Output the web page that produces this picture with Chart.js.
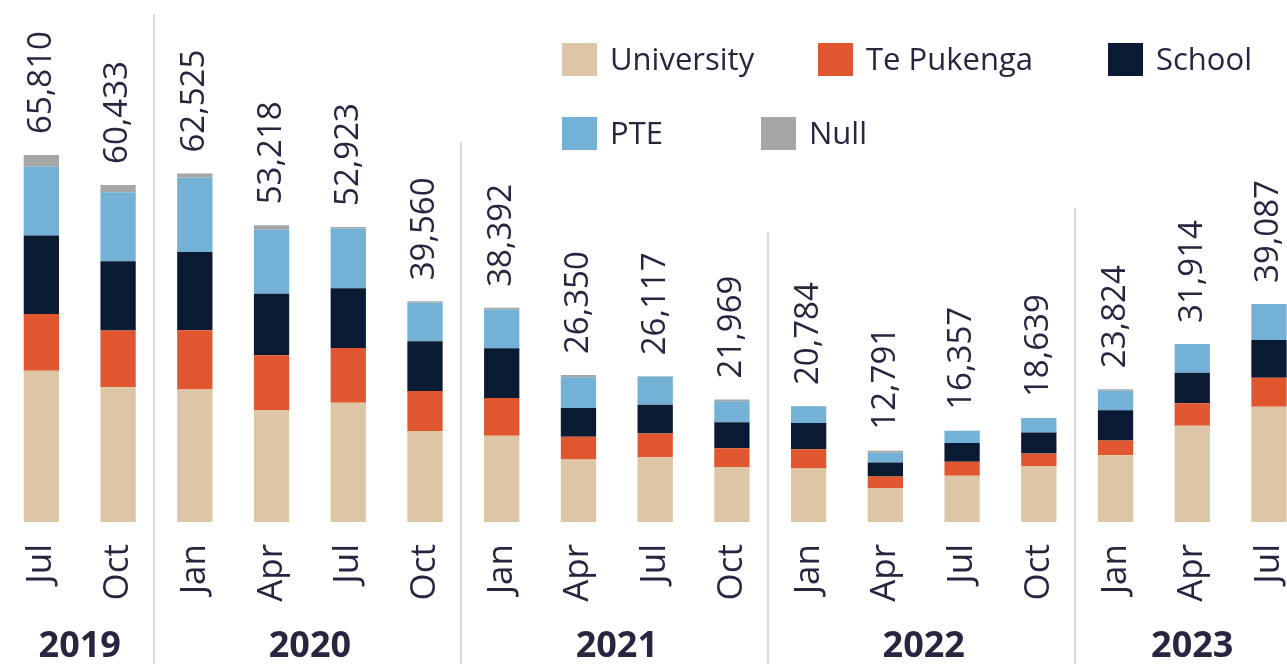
<!DOCTYPE html>
<html>
<head>
<meta charset="utf-8">
<script src="https://cdn.jsdelivr.net/npm/chart.js@4.4.1/dist/chart.umd.min.js"></script>
<style>
  html, body { margin: 0; padding: 0; background: #fff; overflow: hidden; }
  #wrap { position: absolute; left: 3px; top: 0; width: 1330px; height: 664px; }
</style>
</head>
<body>
<div id="wrap"><canvas id="grafico"></canvas></div>
<script>
// Categorias (trimestres) e anos
const months = ['Jul', 'Oct', 'Jan', 'Apr', 'Jul', 'Oct', 'Jan', 'Apr', 'Jul', 'Oct', 'Jan', 'Apr', 'Jul', 'Oct', 'Jan', 'Apr', 'Jul'];
const years = ['2019', '2020', '2021', '2022', '2023'];
const yearFirst = [0, 2, 6, 10, 14];
const yearLast = [1, 5, 9, 13, 16];

// Totais mostrados acima das barras
const totals = [65810, 60433, 62525, 53218, 52923, 39560, 38392, 26350, 26117, 21969, 20784, 12791, 16357, 18639, 23824, 31914, 39087];

// Séries (estimadas a partir da imagem)
const university = [27100, 24160, 23740, 20100, 21400, 16300, 15450, 11200, 11650, 9850, 9570, 6100, 8270, 10040, 11950, 17240, 20650];
const tePukenga = [10170, 10170, 10630, 9800, 9800, 7200, 6800, 4100, 4200, 3350, 3460, 2050, 2530, 2220, 2650, 4030, 5210];
const school = [14100, 12430, 14040, 11000, 10700, 8900, 8900, 5150, 5150, 4700, 4720, 2500, 3370, 3770, 5420, 5500, 6770];
const pte = [12370, 12370, 13340, 11500, 10700, 6900, 6950, 5500, 5020, 3750, 2990, 1750, 2190, 2610, 3530, 5150, 6460];
const nulo = [2070, 1300, 720, 800, 300, 260, 290, 400, 100, 320, 40, 390, 0, 0, 270, 0, 0];

const corTexto = '#2b2441';
const fonte = "'Open Sans', sans-serif";

const series = [
    { label: 'University', data: university, color: '#dcc6a5' },
    { label: 'Te Pukenga', data: tePukenga, color: '#e0562f' },
    { label: 'School', data: school, color: '#0b1a33' },
    { label: 'PTE', data: pte, color: '#73b2d6' },
    { label: 'Null', data: nulo, color: '#a6a6a6' },
];

// Legenda desenhada à mão (posições em px da janela)
const legenda = [
    { i: 0, x: 562, y: 43 },
    { i: 1, x: 818, y: 43 },
    { i: 2, x: 1108, y: 43 },
    { i: 3, x: 562, y: 117 },
    { i: 4, x: 761, y: 117 },
];

// Topo das linhas separadoras de ano (px)
const sepTops = [14, 142, 232, 208];

const extras = {
    id: 'extras',
    afterDraw(chart) {
        const ctx = chart.ctx;
        const x = chart.scales.x;
        const y = chart.scales.y;
        const off = chart.canvas.getBoundingClientRect().left;

        // linhas entre os anos
        ctx.save();
        ctx.strokeStyle = '#d9d9d9';
        ctx.lineWidth = 2;
        for (let k = 0; k < yearLast.length - 1; k++) {
            const sx = Math.round((x.getPixelForValue(yearLast[k]) + x.getPixelForValue(yearFirst[k + 1])) / 2) - 2;
            ctx.beginPath();
            ctx.moveTo(sx, sepTops[k]);
            ctx.lineTo(sx, chart.height);
            ctx.stroke();
        }

        // totais acima das barras
        ctx.fillStyle = corTexto;
        ctx.font = '33px ' + fonte;
        ctx.textAlign = 'left';
        ctx.textBaseline = 'middle';
        totals.forEach((t, i) => {
            const soma = series.reduce((s, d) => s + d.data[i], 0);
            const px = x.getPixelForValue(i);
            const py = y.getPixelForValue(soma) - 21;
            ctx.save();
            ctx.translate(px, py);
            ctx.rotate(-Math.PI / 2);
            ctx.fillText(t.toLocaleString('en-US'), 0, 0);
            ctx.restore();
        });

        // anos
        ctx.font = 'bold 36px ' + fonte;
        ctx.textAlign = 'center';
        years.forEach((ano, k) => {
            const cx = (x.getPixelForValue(yearFirst[k]) + x.getPixelForValue(yearLast[k])) / 2;
            ctx.fillText(ano, cx, 647);
        });

        // legenda
        ctx.font = '31px ' + fonte;
        ctx.textAlign = 'left';
        legenda.forEach(item => {
            const s = series[item.i];
            ctx.fillStyle = s.color;
            ctx.fillRect(item.x - off, item.y, 35, 33);
            ctx.fillStyle = corTexto;
            ctx.fillText(s.label, item.x - off + 48, item.y + 18);
        });
        ctx.restore();
    }
};

const ctx = document.getElementById('grafico').getContext('2d');
new Chart(ctx, {
    type: 'bar',
    data: {
        labels: months,
        datasets: series.map(s => ({
            label: s.label,
            data: s.data,
            backgroundColor: s.color,
            borderWidth: 0,
            barPercentage: 0.46,
            categoryPercentage: 1.0,
        }))
    },
    options: {
        responsive: true,
        maintainAspectRatio: false,
        animation: false,
        layout: { padding: { top: 20, left: 0, right: 0, bottom: 0 } },
        plugins: {
            legend: { display: false },
            tooltip: { enabled: false }
        },
        scales: {
            x: {
                stacked: true,
                grid: { display: false, drawTicks: false },
                border: { display: false },
                ticks: {
                    color: corTexto,
                    font: { family: fonte, size: 35 },
                    maxRotation: 90,
                    minRotation: 90,
                    padding: 22,
                    autoSkip: false
                },
                afterFit(scale) {
                    scale.height = 142;
                }
            },
            y: {
                stacked: true,
                display: false,
                min: 0,
                max: 90000
            }
        }
    },
    plugins: [extras]
});
</script>
</body>
</html>
